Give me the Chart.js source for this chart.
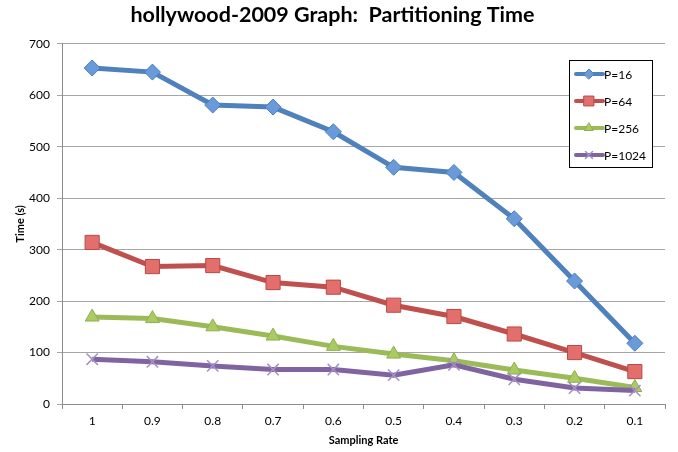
<!DOCTYPE html>
<html>
<head>
<meta charset="utf-8">
<script src="https://cdn.jsdelivr.net/npm/chart.js@4/dist/chart.umd.min.js"></script>
<style>
  html, body { margin: 0; padding: 0; background: #fff; }
  #wrap { width: 678px; height: 452px; }
</style>
</head>
<body>
<div id="wrap"><canvas id="c" width="678" height="452"></canvas></div>
<script>
// Sampling rates on the x axis
const samplingRates = ['1', '0.9', '0.8', '0.7', '0.6', '0.5', '0.4', '0.3', '0.2', '0.1'];

// Partitioning time in seconds, one array per processor count
const timeP16   = [653, 645, 581, 577, 529, 460, 450, 360, 239, 118];
const timeP64   = [314, 267, 269, 236, 227, 192, 170, 136, 100, 63];
const timeP256  = [169, 166, 150, 132, 112, 97, 84, 66, 50, 32];
const timeP1024 = [87, 82, 74, 67, 67, 56, 76, 48, 31, 26];

const seriesLabels = ['P=16', 'P=64', 'P=256', 'P=1024'];
const yTicks = [0, 100, 200, 300, 400, 500, 600, 700];

const FONT = 'Lato, "Open Sans", "DejaVu Sans", sans-serif';

const datasets = [
  {
    label: seriesLabels[0], data: timeP16,
    borderColor: '#4F81BD', borderWidth: 5,
    pointStyle: 'rectRot', pointRadius: 8,
    pointBackgroundColor: '#6A9ADA', pointBorderColor: '#4A7EBB', pointBorderWidth: 1,
    order: 3
  },
  {
    label: seriesLabels[1], data: timeP64,
    borderColor: '#C0504D', borderWidth: 5,
    pointStyle: 'rect', pointRadius: 10,
    pointBackgroundColor: '#E36F6C', pointBorderColor: '#B94A47', pointBorderWidth: 1,
    order: 2
  },
  {
    label: seriesLabels[2], data: timeP256,
    borderColor: '#9BBB59', borderWidth: 5,
    pointStyle: 'triangle', pointRadius: 8,
    pointBackgroundColor: '#A9CB62', pointBorderColor: '#8FAE50', pointBorderWidth: 1,
    order: 1
  },
  {
    label: seriesLabels[3], data: timeP1024,
    borderColor: '#8064A2', borderWidth: 5,
    pointStyle: 'crossRot', pointRadius: 8,
    pointBackgroundColor: '#A58FC6', pointBorderColor: '#A58FC6', pointBorderWidth: 1.5,
    order: 0
  }
];

// Boxed legend in the upper right of the plot area
const boxedLegend = {
  id: 'boxedLegend',
  afterDatasetsDraw(chart) {
    const ctx = chart.ctx;
    const x0 = 569.5, y0 = 60.5, w = 83, h = 107;
    const rowY = [74, 101, 128, 155];
    ctx.save();
    ctx.fillStyle = '#ffffff';
    ctx.fillRect(x0, y0, w, h);
    ctx.strokeStyle = '#000000';
    ctx.lineWidth = 1;
    ctx.strokeRect(x0, y0, w, h);
    chart.data.datasets.forEach((ds, i) => {
      const y = rowY[i];
      ctx.strokeStyle = ds.borderColor;
      ctx.lineWidth = 4;
      ctx.lineCap = 'round';
      ctx.beginPath();
      ctx.moveTo(576, y);
      ctx.lineTo(603, y);
      ctx.stroke();
      ctx.fillStyle = ds.pointBackgroundColor;
      ctx.strokeStyle = ds.pointBorderColor;
      ctx.lineWidth = ds.pointBorderWidth;
      Chart.helpers.drawPoint(ctx, {
        pointStyle: ds.pointStyle,
        radius: ds.pointStyle === 'rect' ? 7 : 5,
        rotation: 0,
        borderWidth: ds.pointBorderWidth
      }, 589, y);
      ctx.fillStyle = '#000000';
      ctx.font = '12px ' + FONT;
      ctx.textAlign = 'left';
      ctx.textBaseline = 'middle';
      ctx.fillText(ds.label, 604, y + 1);
    });
    ctx.restore();
  }
};

new Chart(document.getElementById('c'), {
  type: 'line',
  data: { labels: samplingRates, datasets },
  plugins: [boxedLegend],
  options: {
    responsive: false,
    animation: false,
    layout: { padding: { left: 0, right: 13, top: 0, bottom: 0 } },
    elements: { line: { tension: 0 } },
    plugins: {
      legend: { display: false },
      tooltip: { enabled: false },
      title: {
        display: true,
        text: 'hollywood-2009 Graph:  Partitioning Time',
        color: '#000',
        font: { family: FONT, size: 21.5, weight: 'bold', lineHeight: 1.2 },
        padding: { top: 2, bottom: 16 }
      }
    },
    scales: {
      x: {
        offset: true,
        grid: { offset: true, drawOnChartArea: false, drawTicks: true, tickLength: 5, color: '#8c8c8c' },
        border: { color: '#8c8c8c', width: 1 },
        ticks: { color: '#000', font: { family: FONT, size: 12 }, padding: 5, maxRotation: 0 },
        title: {
          display: true, text: 'Sampling Rate', color: '#000',
          font: { family: FONT, size: 11, weight: 'bold' },
          padding: { top: 0, bottom: 5 }
        },
        afterFit(scale) { scale.height = 48; }
      },
      y: {
        min: 0, max: 700,
        afterBuildTicks(scale) { scale.ticks = yTicks.map(v => ({ value: v })); },
        grid: { color: '#a6a6a6', lineWidth: 1, drawTicks: true, tickLength: 5 },
        border: { color: '#8c8c8c', width: 1 },
        ticks: { color: '#000', font: { family: FONT, size: 12 }, padding: 7 },
        title: {
          display: true, text: 'Time (s)', color: '#000',
          font: { family: FONT, size: 11, weight: 'bold' },
          padding: { top: 14, bottom: 0 }
        },
        afterFit(scale) { scale.width = 62; }
      }
    }
  }
});
</script>
</body>
</html>
